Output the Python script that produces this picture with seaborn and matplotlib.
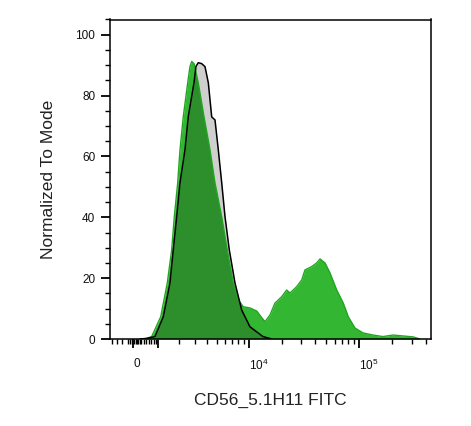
import numpy as np
import matplotlib
matplotlib.use("Agg")
import matplotlib.pyplot as plt
import seaborn as sns

# Isotype control histogram (grey fill, black outline)
ctrl_x = [263, 520, 853, 1213, 1528, 1695, 1875, 2058, 2354, 2564, 2792, 2955,
          3101, 3277, 3549, 3833, 4135, 4463, 4804, 5169, 5572, 5987, 6569,
          7428, 8572, 10220, 13440, 16140]
ctrl_y = [0.0, 0.2, 0.8, 7.3, 18.4, 29.3, 40.2, 51.3, 62.2, 73.1, 79.7, 84.2,
          89.6, 90.8, 90.5, 89.5, 84.2, 73.0, 72.0, 62.2, 51.3, 40.2, 29.3,
          18.4, 9.5, 4.0, 0.8, 0.0]

# CD56_5.1H11 FITC stained histogram (green)
stain_x = [455, 719, 1097, 1398, 1613, 1747, 1929, 2058, 2251, 2525, 2677, 2792,
           2955, 3277, 3745, 4295, 4804, 5572, 6293, 7162, 7972, 8868, 10220,
           11776, 13164, 14020, 15572, 17287, 19890, 22086, 23670, 27216, 30222,
           32364, 37224, 41310, 44262, 49122, 54522, 62712, 71892, 79812, 91800,
           108450, 133560, 164430, 202680, 249480, 307260, 355680]
stain_y = [0.0, 0.8, 7.3, 18.4, 29.3, 40.2, 51.3, 62.2, 73.1, 84.2, 89.6, 91.2,
           90.5, 84.2, 73.1, 62.2, 51.3, 40.2, 29.3, 18.4, 12.8, 10.6, 10.2,
           9.2, 6.9, 5.7, 7.9, 11.8, 13.9, 16.1, 15.1, 17.2, 19.4,
           22.7, 23.8, 25.0, 26.3, 25.0, 21.7, 16.1, 11.8, 7.3, 3.6,
           2.0, 1.3, 0.8, 1.3, 1.0, 0.7, 0.0]

x_major = [0, 1000, 10000, 100000]
x_major_labels = ['0', '', '$10^4$', '$10^5$']
x_minor = ([-800, -600, -400, -200, -100, -50, 50, 100, 150, 200, 250, 300, 400,
            500, 600, 700, 800, 900]
           + [k * 1000 for k in range(2, 10)]
           + [k * 10000 for k in range(2, 10)]
           + [k * 100000 for k in range(2, 5)])
y_major = [0, 20, 40, 60, 80, 100]

light_green = '#33b733'
dark_green = '#2c8f2c'
edge_green = '#22a522'
grey = '#cfcfcf'

W = 1800.0  # width of the linear region of the biexponential-like scale


def biex(v):
    return np.arcsinh(np.asarray(v, dtype=float) / W)


def biex_inv(u):
    return W * np.sinh(np.asarray(u, dtype=float))


sns.set_style('ticks')
plt.rcParams['font.family'] = ['Liberation Sans', 'DejaVu Sans']
plt.rcParams['mathtext.fontset'] = 'custom'
plt.rcParams['mathtext.rm'] = 'Liberation Sans'
plt.rcParams['mathtext.it'] = 'Liberation Sans'

fig = plt.figure(figsize=(4.71, 4.26), dpi=100)
ax = fig.add_axes([110 / 471, 1 - 339 / 426, 321 / 471, 319.5 / 426])
ax.set_xscale('function', functions=(biex, biex_inv))

# fills: green sample, grey control, overlap in dark green
green_fill = ax.fill_between(stain_x, stain_y, color=light_green, lw=0, zorder=1)
ax.fill_between(ctrl_x, ctrl_y, color=grey, lw=0, zorder=2)
overlap = ax.fill_between(ctrl_x, ctrl_y, color=dark_green, lw=0, zorder=3)
overlap.set_clip_path(green_fill.get_paths()[0], ax.transData)

sns.lineplot(x=stain_x, y=stain_y, color=edge_green, lw=1.0, sort=False,
             estimator=None, ax=ax, zorder=4)
sns.lineplot(x=ctrl_x, y=ctrl_y, color='black', lw=1.1, sort=False,
             estimator=None, ax=ax, zorder=5)

ax.set_xlim(-896, 447300)
ax.set_ylim(0, 105)

ax.set_xticks(x_major)
ax.set_xticklabels(x_major_labels, ha='left')
ax.xaxis.set_minor_locator(matplotlib.ticker.FixedLocator(x_minor))
ax.xaxis.set_minor_formatter(matplotlib.ticker.NullFormatter())
ax.set_yticks(y_major)
ax.yaxis.set_minor_locator(matplotlib.ticker.MultipleLocator(5))

ax.tick_params(axis='both', which='major', length=6.5, width=1.3, color='black',
               labelcolor='#111111')
ax.tick_params(axis='both', which='minor', length=3.6, width=1.0, color='black')
ax.tick_params(axis='y', which='major', pad=4, labelsize=8.5)
ax.tick_params(axis='x', which='major', pad=7, labelsize=8.5)

for side in ['top', 'bottom', 'left', 'right']:
    ax.spines[side].set_visible(True)
    ax.spines[side].set_color('black')
    ax.spines[side].set_linewidth(1.1)
    ax.spines[side].set_zorder(6)

ax.set_xlabel('CD56_5.1H11 FITC', fontsize=12.5, color='#222222', labelpad=14)
ax.set_ylabel('Normalized To Mode', fontsize=12.5, color='#222222', labelpad=14)

fig.savefig('out.png', dpi=100)
